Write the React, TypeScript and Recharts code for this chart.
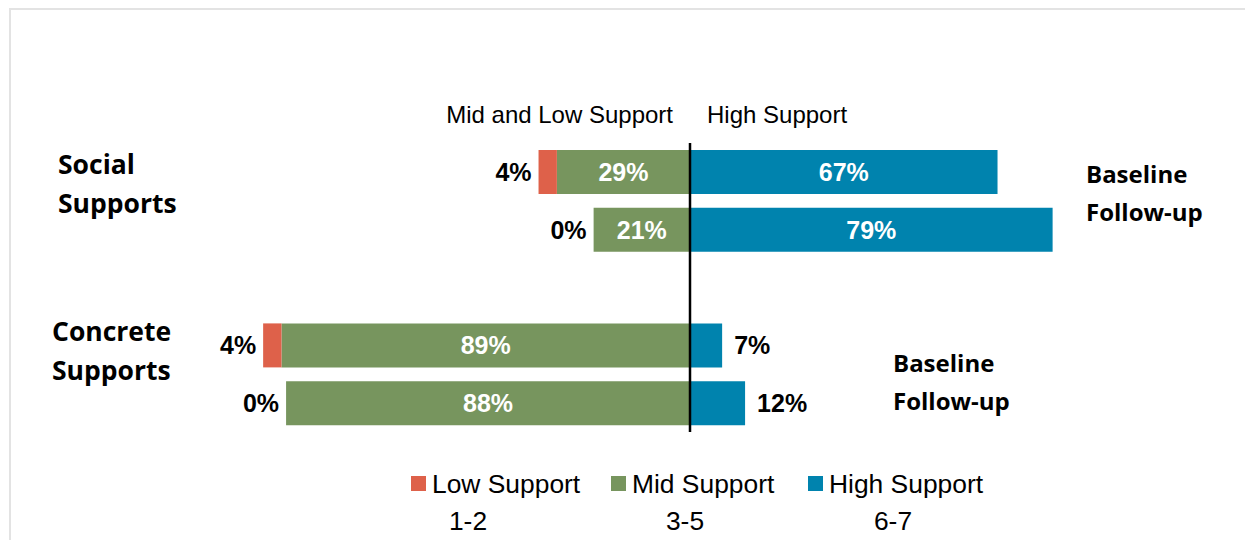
import { BarChart, Bar, XAxis, YAxis, ReferenceLine, LabelList } from 'recharts';

const categories = ['Social Baseline', 'Social Follow-up', '', 'Concrete Baseline', 'Concrete Follow-up'];
const lowValues = [4, 0, null, 4, 0];
const midValues = [29, 21, null, 89, 88];
const highValues = [67, 79, null, 7, 12];

const groupLabels = [
  { lines: ['Social', 'Supports'], x: 58, y: 164 },
  { lines: ['Concrete', 'Supports'], x: 52, y: 331 },
];
const timeLabels = [
  { lines: ['Baseline', 'Follow-up'], x: 1086, y: 173 },
  { lines: ['Baseline', 'Follow-up'], x: 893, y: 362 },
];
const sideHeaders = ['Mid and Low Support', 'High Support'];
const legendItems = [
  { name: 'Low Support', range: '1-2', color: '#DE614A', x: 411, rangeX: 468 },
  { name: 'Mid Support', range: '3-5', color: '#77955E', x: 611, rangeX: 685 },
  { name: 'High Support', range: '6-7', color: '#0083AE', x: 808, rangeX: 893 },
];

const data = categories.map((name, i) => ({
  name,
  low: lowValues[i] == null ? undefined : -(lowValues[i] as number),
  mid: midValues[i] == null ? undefined : -(midValues[i] as number),
  high: highValues[i] == null ? undefined : highValues[i],
}));

const VALUE_FONT = '"Liberation Sans", Arial, sans-serif';
const LABEL_FONT = '"Open Sans", "Noto Sans", sans-serif';

// value is the whole row, so the low label can sit left of the low segment (or of mid when low is 0)
const MidLabel = (props: any) => {
  const { x, y, width, height, value } = props;
  if (value == null || typeof value !== 'object') return null;
  const left = Math.min(x, x + width);
  const w = Math.abs(width);
  const cy = y + height / 2;
  const mid = Math.abs(value.mid);
  const low = Math.abs(value.low ?? 0);
  const lowW = mid ? (w * low) / mid : 0;
  return (
    <g fontFamily={VALUE_FONT} fontWeight="bold" fontSize={25}>
      <text x={left + w / 2} y={cy} textAnchor="middle" dominantBaseline="central" fill="#fff">
        {`${mid}%`}
      </text>
      <text x={left - lowW - 7} y={cy} textAnchor="end" dominantBaseline="central" fill="#000">
        {`${low}%`}
      </text>
    </g>
  );
};

const HighLabel = (props: any) => {
  const { x, y, width, height, value } = props;
  if (value == null) return null;
  const cy = y + height / 2;
  const inside = value >= 20;
  return (
    <text
      x={inside ? x + width / 2 : x + width + 12}
      y={cy}
      textAnchor={inside ? 'middle' : 'start'}
      dominantBaseline="central"
      fill={inside ? '#fff' : '#000'}
      fontFamily={VALUE_FONT}
      fontWeight="bold"
      fontSize={25}
    >
      {`${value}%`}
    </text>
  );
};

export default function App() {
  return (
    <div style={{ position: 'absolute', left: 0, top: 0, width: 1245, height: 540, overflow: 'hidden', background: '#fff' }}>
      <div style={{ position: 'absolute', left: 9, top: 8, width: 1250, height: 560, border: '2px solid #e3e3e3' }} />
      <div style={{ position: 'absolute', left: 0, top: 0 }}>
        <BarChart
          width={1245}
          height={540}
          data={data}
          layout="vertical"
          stackOffset="sign"
          barSize={44}
          margin={{ top: 143, right: 96, bottom: 108, left: 231 }}
        >
          <XAxis type="number" domain={[-100, 100]} hide />
          <YAxis type="category" dataKey="name" hide />
          <Bar dataKey="mid" stackId="a" fill="#77955E" isAnimationActive={false}>
            <LabelList dataKey={(d: any) => (d.mid == null ? null : d)} content={MidLabel} />
          </Bar>
          <Bar dataKey="low" stackId="a" fill="#DE614A" isAnimationActive={false} />
          <Bar dataKey="high" stackId="a" fill="#0083AE" isAnimationActive={false}>
            <LabelList dataKey="high" content={HighLabel} />
          </Bar>
          <ReferenceLine x={0} stroke="#000" strokeWidth={2.5} />
        </BarChart>
      </div>
      <svg width={1245} height={540} style={{ position: 'absolute', left: 0, top: 0, pointerEvents: 'none' }}>
        <text x={673} y={114} textAnchor="end" dominantBaseline="central" fontFamily={VALUE_FONT} fontSize={24} fill="#000">
          {sideHeaders[0]}
        </text>
        <text x={707} y={114} textAnchor="start" dominantBaseline="central" fontFamily={VALUE_FONT} fontSize={24} fill="#000">
          {sideHeaders[1]}
        </text>
        {groupLabels.map((g, i) =>
          g.lines.map((line, j) => (
            <text
              key={`g${i}-${j}`}
              x={g.x}
              y={g.y + j * 39}
              dominantBaseline="central"
              fontFamily={LABEL_FONT}
              fontWeight="bold"
              fontSize={26.5}
              fill="#000"
            >
              {line}
            </text>
          ))
        )}
        {timeLabels.map((g, i) =>
          g.lines.map((line, j) => (
            <text
              key={`t${i}-${j}`}
              x={g.x}
              y={g.y + j * 38}
              dominantBaseline="central"
              fontFamily={LABEL_FONT}
              fontWeight="bold"
              fontSize={24}
              fill="#000"
            >
              {line}
            </text>
          ))
        )}
        {legendItems.map((item) => (
          <g key={item.name} fontFamily={VALUE_FONT} fill="#000">
            <rect x={item.x} y={476} width={15} height={15} fill={item.color} />
            <text x={item.x + 21} y={484} dominantBaseline="central" fontSize={26.4}>
              {item.name}
            </text>
            <text x={item.rangeX} y={521} textAnchor="middle" dominantBaseline="central" fontSize={26.4}>
              {item.range}
            </text>
          </g>
        ))}
      </svg>
    </div>
  );
}
